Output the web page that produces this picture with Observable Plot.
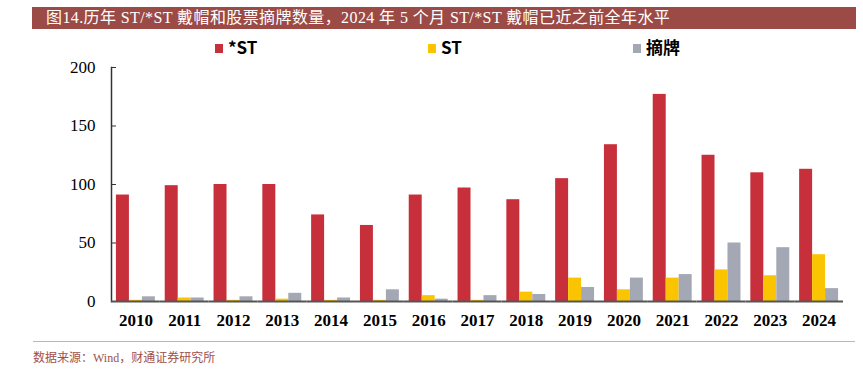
<!DOCTYPE html>
<html>
<head>
<meta charset="utf-8">
<script src="https://cdn.jsdelivr.net/npm/d3@7"></script>
<script src="https://cdn.jsdelivr.net/npm/@observablehq/plot@0.6"></script>
<style>
  html, body { margin: 0; padding: 0; background: #fff; }
  #wrap { position: relative; width: 863px; height: 376px; overflow: hidden; font-family: "Liberation Serif", "Noto Sans CJK SC", serif; }
  #title { position: absolute; left: 32px; top: 7px; width: 824px; height: 22px; background: #9c4a45; color: #fff; font-size: 16px; letter-spacing: 0.4px; line-height: 22px; white-space: nowrap; }
  #title span { position: absolute; left: 14px; top: 0; }
  #legend { position: absolute; top: 37px; left: 0; width: 863px; height: 20px; font-family: "Noto Sans CJK SC", "Noto Sans", sans-serif; font-weight: bold; font-size: 17px; }
  .item { position: absolute; top: 0; line-height: 20px; white-space: nowrap; }
  .sw { display: inline-block; width: 8px; height: 9px; margin-right: 5px; vertical-align: 1px; }
  #chart { position: absolute; left: 0; top: 40px; }
  #srcline { position: absolute; left: 33px; top: 341px; width: 822px; height: 0; border-top: 1.5px solid #d9aaa8; }
  #source { position: absolute; left: 33px; top: 348px; font-size: 12px; color: #a0504c; white-space: nowrap; }
</style>
</head>
<body>
<div id="wrap">
  <div id="title"><span id="titleText"></span></div>
  <div id="legend"></div>
  <div id="chart"></div>
  <div id="srcline"></div>
  <div id="source"></div>
</div>
<script>
const titleText = "图14.历年 ST/*ST 戴帽和股票摘牌数量，2024 年 5 个月 ST/*ST 戴帽已近之前全年水平";
const sourceText = "数据来源：Wind，财通证券研究所";
const years = ["2010","2011","2012","2013","2014","2015","2016","2017","2018","2019","2020","2021","2022","2023","2024"];
const seriesNames = ["*ST", "ST", "摘牌"];
const seriesColors = ["#c7303a", "#fac400", "#a4a8b4"];
const starST = [91, 99, 100, 100, 74, 65, 91, 97, 87, 105, 134, 177, 125, 110, 113];
const st = [1, 3, 1, 2, 1, 1, 5, 1, 8, 20, 10, 20, 27, 22, 40];
const delisted = [4, 3, 4, 7, 3, 10, 2, 5, 6, 12, 20, 23, 50, 46, 11];
const yTicks = [0, 50, 100, 150, 200];
const legendX = [215, 428, 633];

const seriesValues = [starST, st, delisted];
const data = [];
years.forEach((yr, i) => {
  seriesNames.forEach((s, j) => data.push({year: yr, series: s, value: seriesValues[j][i]}));
});

document.getElementById("titleText").textContent = titleText;
document.getElementById("source").textContent = sourceText;

const legend = document.getElementById("legend");
seriesNames.forEach((s, j) => {
  const it = document.createElement("div");
  it.className = "item";
  it.style.left = legendX[j] + "px";
  const sw = document.createElement("span");
  sw.className = "sw";
  sw.style.background = seriesColors[j];
  it.appendChild(sw);
  it.appendChild(document.createTextNode(s));
  legend.appendChild(it);
});

const chart = Plot.plot({
  width: 863,
  height: 300,
  marginTop: 27,
  marginBottom: 39,
  marginLeft: 111,
  marginRight: 20,
  style: { fontFamily: "'Liberation Serif', 'Times New Roman', serif", fontSize: "17px", color: "#000", background: "transparent" },
  fx: { domain: years, paddingInner: 0, paddingOuter: 0, round: false, label: null },
  x: { domain: seriesNames, paddingInner: 0, paddingOuter: 0.38, round: false, axis: null },
  y: { domain: [0, 200], label: null },
  color: { domain: seriesNames, range: seriesColors },
  marks: [
    Plot.barY(data, { fx: "year", x: "series", y: "value", fill: "series" }),
    Plot.axisY({ ticks: yTicks, tickSize: -5, tickPadding: 21, label: null, stroke: "#333", fontSize: 17 }),
    Plot.frame({ anchor: "left", facetAnchor: "left", stroke: "#333", strokeWidth: 1.5 }),
    Plot.ruleY([0], { stroke: "#555", strokeWidth: 2 }),
    Plot.axisFx({ anchor: "bottom", tickSize: 0, tickPadding: 12, label: null, fontWeight: "bold", fontSize: 17 })
  ]
});
document.getElementById("chart").appendChild(chart);
</script>
</body>
</html>
